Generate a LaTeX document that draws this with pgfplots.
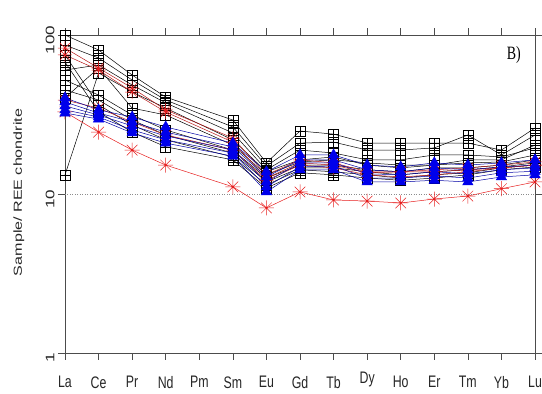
\documentclass[border=0pt]{standalone}
\usepackage{fontspec}
\setmainfont{Liberation Sans}
\newfontfamily\serifB{Liberation Serif}
\usepackage{pgfplots}
\pgfplotsset{compat=1.18}
\pgfdeclareplotmark{sqplus}{%
  \pgfpathrectangle{\pgfqpoint{-\pgfplotmarksize}{-\pgfplotmarksize}}{\pgfqpoint{2\pgfplotmarksize}{2\pgfplotmarksize}}%
  \pgfpathmoveto{\pgfqpoint{-\pgfplotmarksize}{0pt}}\pgfpathlineto{\pgfqpoint{\pgfplotmarksize}{0pt}}%
  \pgfpathmoveto{\pgfqpoint{0pt}{-\pgfplotmarksize}}\pgfpathlineto{\pgfqpoint{0pt}{\pgfplotmarksize}}%
  \pgfusepathqstroke}
\pgfdeclareplotmark{star8}{%
  \pgfpathmoveto{\pgfqpoint{-\pgfplotmarksize}{0pt}}\pgfpathlineto{\pgfqpoint{\pgfplotmarksize}{0pt}}%
  \pgfpathmoveto{\pgfqpoint{0pt}{-\pgfplotmarksize}}\pgfpathlineto{\pgfqpoint{0pt}{\pgfplotmarksize}}%
  \pgfpathmoveto{\pgfqpoint{-0.707\pgfplotmarksize}{-0.707\pgfplotmarksize}}\pgfpathlineto{\pgfqpoint{0.707\pgfplotmarksize}{0.707\pgfplotmarksize}}%
  \pgfpathmoveto{\pgfqpoint{-0.707\pgfplotmarksize}{0.707\pgfplotmarksize}}\pgfpathlineto{\pgfqpoint{0.707\pgfplotmarksize}{-0.707\pgfplotmarksize}}%
  \pgfusepathqstroke}
\definecolor{rred}{RGB}{230,30,30}
\definecolor{bblue}{RGB}{0,0,235}
\newcommand{\xl}[1]{\scalebox{1}[1.35]{#1}}
\newcommand{\yl}[1]{\scalebox{1.38}[1]{#1}}
\newcommand{\dyl}{\xl{\vphantom{Dy}}\raisebox{4bp}[0pt][0pt]{\xl{Dy}}}
\begin{document}%
\begin{tikzpicture}
\useasboundingbox (-65bp,-41bp) rectangle (477bp,353bp);
\begin{axis}[
  at={(0,0)}, anchor=south west,
  scale only axis, width=470bp, height=318bp,
  xmin=0, xmax=14, ymode=log, ymin=1, ymax=100,
  xtick={0,...,14},
  xticklabels={\xl{La},\xl{Ce},\xl{Pr},\xl{Nd},\xl{Pm},\xl{Sm},\xl{Eu},\xl{Gd},\xl{Tb},\dyl,\xl{Ho},\xl{Er},\xl{Tm},\xl{Yb},\xl{Lu}},
  ytick={1,10,100}, yticklabels={\yl{1},\yl{10},\yl{100}},
  yminorticks=false,
  tick align=outside, major tick length=7bp,
  tick style={black!70, line width=0.6pt},
  axis line style={black!70, line width=0.8pt},
  xticklabel style={font=\fontsize{12.4}{14}\selectfont, anchor=north, yshift=-13bp, text=black!85},
  yticklabel style={font=\fontsize{12.4}{14}\selectfont, rotate=90, anchor=south, xshift=-5bp, text=black!85},
  /pgf/number format/assume math mode=true,
  ylabel={\yl{Sample/ REE chondrite}},
  ylabel style={font=\fontsize{11.7}{13}\selectfont, at={(rel axis cs:-0.098,0.505)}, anchor=center, rotate=0, text=black!85},
  every axis plot/.append style={line width=0.5pt},
  clip=false,
]
\addplot[black!45, dotted, line width=0.6pt, forget plot] coordinates {(0,10) (14,10)};
% black squares
\addplot[black, mark=sqplus, mark size=5bp] coordinates {(0,100) (1,80.5) (2,56.0) (3,40.7) (5,29.2) (6,15.7) (7,24.9) (8,23.8) (9,20.9) (10,20.9) (11,20.9) (12,20.9) (13,18.9) (14,26.0)};
\addplot[black, mark=sqplus, mark size=5bp] coordinates {(0,86.5) (1,71.7) (2,52.1) (3,39.0) (5,26.4) (6,15.0) (7,20.9) (8,21.2) (9,18.9) (10,18.9) (11,19.5) (12,23.5) (13,17.6) (14,23.5)};
\addplot[black, mark=sqplus, mark size=5bp] coordinates {(0,60.2) (1,64.8) (2,48.5) (3,37.4) (5,24.2) (6,14.2) (7,18.9) (8,18.1) (9,16.4) (10,16.4) (11,17.6) (12,17.6) (13,17.1) (14,19.5)};
\addplot[black, mark=sqplus, mark size=5bp] coordinates {(0,13.2) (1,57.7) (2,43.8) (3,34.7) (5,21.9) (6,13.8) (7,16.4) (8,17.1) (9,15.2) (10,14.6) (11,15.2) (12,16.4) (13,16.4) (14,20.3)};
\addplot[black, mark=sqplus, mark size=5bp] coordinates {(0,52.1) (1,41.9) (2,31.4) (3,25.3) (5,18.9) (6,12.6) (7,15.2) (8,15.2) (9,14.2) (10,13.8) (11,14.6) (12,14.6) (13,15.2) (14,16.4)};
\addplot[black, mark=sqplus, mark size=5bp] coordinates {(0,45.1) (1,39.0) (2,29.2) (3,23.5) (5,18.1) (6,11.9) (7,14.6) (8,14.6) (9,13.8) (10,13.2) (11,13.8) (12,14.2) (13,14.8) (14,15.7)};
\addplot[black, mark=sqplus, mark size=5bp] coordinates {(0,74.9) (1,36.3) (2,27.2) (3,21.9) (5,17.1) (6,11.4) (7,14.2) (8,13.8) (9,13.2) (10,12.6) (11,13.2) (12,13.6) (13,14.6) (14,15.2)};
\addplot[black, mark=sqplus, mark size=5bp] coordinates {(0,67.6) (1,32.8) (2,24.5) (3,19.8) (5,16.4) (6,10.9) (7,13.6) (8,13.2) (9,12.6) (10,12.2) (11,12.6) (12,13.2) (13,14.2) (14,14.8)};
\addplot[black, mark=sqplus, mark size=5bp] coordinates {(0,40.2) (1,62.0) (2,34.7) (3,31.4) (5,20.3) (6,13.2) (7,15.9) (8,16.4) (9,15.7) (10,15.2) (11,15.2) (12,15.7) (13,15.9) (14,17.6)};
% red stars
\addplot[rred!80!black, mark=star8, mark size=7bp, mark options={rred}] coordinates {(0,82.8) (1,62.0) (2,46.4) (3,33.8) (5,22.5) (6,13.2) (7,16.4) (8,15.7) (9,13.8) (10,13.8) (11,14.2) (12,14.6) (13,15.2) (14,15.9)};
\addplot[rred!80!black, mark=star8, mark size=7bp, mark options={rred}] coordinates {(0,74.9) (1,60.2) (2,43.8) (3,32.8) (5,21.2) (6,12.6) (7,15.7) (8,15.2) (9,13.6) (10,13.8) (11,13.8) (12,14.2) (13,14.6) (14,15.2)};
\addplot[rred!80!black, mark=star8, mark size=7bp, mark options={rred}] coordinates {(0,39.0) (1,34.7) (2,28.4) (3,23.5) (5,18.9) (6,12.2) (7,15.2) (8,14.6) (9,13.2) (10,12.8) (11,13.2) (12,13.8) (13,14.6) (14,15.2)};
\addplot[rred, mark=star8, mark size=7.5bp] coordinates {(0,32.8) (1,24.5) (2,18.9) (3,15.2) (5,11.1) (6,8.17) (7,10.3) (8,9.17) (9,9.03) (10,8.78) (11,9.30) (12,9.71) (13,10.8) (14,11.9)};
% blue triangles
\addplot[bblue!70!black, mark=triangle*, mark size=6bp, mark options={bblue}] coordinates {(0,40.2) (1,33.8) (2,30.5) (3,26.4) (5,20.9) (6,13.8) (7,17.6) (8,17.6) (9,15.2) (10,14.8) (11,15.7) (12,15.2) (13,15.7) (14,16.4)};
\addplot[bblue!70!black, mark=triangle*, mark size=6bp, mark options={bblue}] coordinates {(0,37.9) (1,32.3) (2,28.4) (3,24.5) (5,19.8) (6,12.8) (7,16.4) (8,16.4) (9,14.2) (10,13.8) (11,14.6) (12,14.2) (13,14.8) (14,15.2)};
\addplot[bblue!70!black, mark=triangle*, mark size=6bp, mark options={bblue}] coordinates {(0,35.8) (1,31.4) (2,26.8) (3,23.2) (5,18.9) (6,11.9) (7,15.7) (8,15.7) (9,13.4) (10,13.2) (11,13.8) (12,13.4) (13,14.2) (14,14.6)};
\addplot[bblue!70!black, mark=triangle*, mark size=6bp, mark options={bblue}] coordinates {(0,33.8) (1,30.5) (2,25.3) (3,21.9) (5,18.1) (6,11.1) (7,14.8) (8,15.0) (9,12.6) (10,12.6) (11,13.0) (12,12.6) (13,13.6) (14,13.9)};
\addplot[bblue!70!black, mark=triangle*, mark size=6bp, mark options={bblue}] coordinates {(0,32.3) (1,29.6) (2,24.2) (3,20.9) (5,17.3) (6,10.3) (7,14.2) (8,14.2) (9,11.9) (10,11.9) (11,12.2) (12,11.9) (13,12.8) (14,13.2)};
\node[font=\serifB\fontsize{14}{17}\selectfont] at (rel axis cs:0.955,0.937) {\scalebox{1}[1.35]{B)}};
\end{axis}
\end{tikzpicture}%
\end{document}
